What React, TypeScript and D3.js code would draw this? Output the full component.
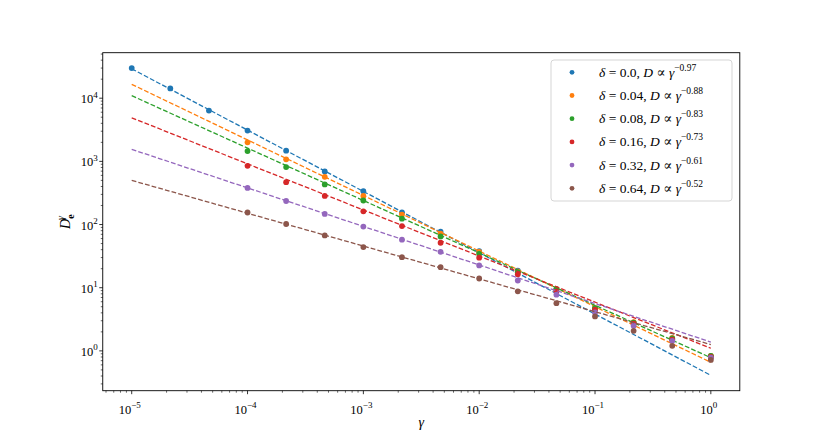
import React from "react";
import * as d3 from "d3";

// gamma grid: three points per decade from 1e-5 to 1
const gammas = [
  1e-5, 2.154e-5, 4.642e-5, 1e-4, 2.154e-4, 4.642e-4, 1e-3, 2.154e-3, 4.642e-3,
  1e-2, 2.154e-2, 4.642e-2, 1e-1, 2.154e-1, 4.642e-1, 1,
];

const deltas = ["0.0", "0.04", "0.08", "0.16", "0.32", "0.64"];
const exponents = ["0.97", "0.88", "0.83", "0.73", "0.61", "0.52"];
const colors = ["#1f77b4", "#ff7f0e", "#2ca02c", "#d62728", "#9467bd", "#8c564b"];

// measured D values (null = not measured)
const dDelta000 = [
  30000, 14300, 6370, 3070, 1475, 694, 337, 156, 77, 38, 18.7, 9.3, 4.65, 2.8, 1.5, 0.8,
];
const dDelta004 = [
  null, null, null, 2005, 1076, 569, 284, 144, 71.7, 37, 18.2, 9.5, 4.8, 2.84, 1.6, 0.83,
];
const dDelta008 = [
  null, null, null, 1458, 812, 431, 240, 124, 64.9, 34.2, 17.6, 9.5, 4.74, 2.79, 1.57, 0.83,
];
const dDelta016 = [
  null, null, null, 851, 469, 284, 162, 94.6, 51.5, 29.9, 16.3, 8.77, 4.49, 2.69, 1.5, 0.8,
];
const dDelta032 = [
  null, null, null, 380, 236, 147, 92.7, 57.6, 37, 22.5, 13.0, 7.77, 4.06, 2.5, 1.44, 0.78,
];
const dDelta064 = [
  null, null, null, 155, 102, 67.3, 43.9, 30.4, 21.1, 14.0, 8.77, 5.69, 3.51, 2.08, 1.2, 0.72,
];
const series = [dDelta000, dDelta004, dDelta008, dDelta016, dDelta032, dDelta064];

// power-law fit lines, value at gamma = 1e-5 and at gamma = 1
const fitStart = [29200, 16600, 10960, 4900, 1550, 500];
const fitEnd = [0.41, 0.66, 0.78, 1.1, 1.38, 1.26];
const fitGamma = [1e-5, 1];

const W = 822;
const H = 439;
const margin = { left: 102.75, right: 82.2, top: 52.7, bottom: 48.3 };
const font = "'Liberation Serif', 'DejaVu Serif', serif";

// matplotlib-style 5% margins in log space
function logDomain(values: number[]): [number, number] {
  const [lo, hi] = d3.extent(values.map(Math.log10)) as [number, number];
  const pad = (hi - lo) * 0.05;
  return [10 ** (lo - pad), 10 ** (hi + pad)];
}

function logTicks(domain: [number, number]) {
  const major: number[] = [];
  const minor: number[] = [];
  const e0 = Math.floor(Math.log10(domain[0]));
  const e1 = Math.ceil(Math.log10(domain[1]));
  for (let e = e0; e <= e1; e++) {
    for (let m = 1; m <= 9; m++) {
      const v = m * 10 ** e;
      if (v < domain[0] * 0.9999 || v > domain[1] * 1.0001) continue;
      (m === 1 ? major : minor).push(v);
    }
  }
  return { major, minor };
}

const Pow10: React.FC<{ v: number; x: number; y: number; anchor: string }> = ({ v, x, y, anchor }) => {
  const e = Math.round(Math.log10(v));
  return (
    <text x={x} y={y} textAnchor={anchor} fontFamily={font} fontSize={12.5} fill="#000">
      10
      <tspan dy={-5.5} fontSize={9}>
        {e < 0 ? `\u2212${-e}` : `${e}`}
      </tspan>
    </text>
  );
};

export default function App() {
  const allY: number[] = [];
  series.forEach((s) => s.forEach((v) => v != null && allY.push(v)));
  fitStart.forEach((v) => allY.push(v));
  fitEnd.forEach((v) => allY.push(v));

  const xDomain = logDomain(gammas);
  const yDomain = logDomain(allY);

  const x = d3.scaleLog().domain(xDomain).range([margin.left, W - margin.right]);
  const y = d3.scaleLog().domain(yDomain).range([H - margin.bottom, margin.top]);

  const xt = logTicks(xDomain);
  const yt = logTicks(yDomain);

  const line = d3
    .line<number>()
    .x((_, i) => x(fitGamma[i]))
    .y((d) => y(d));

  const x0 = margin.left;
  const x1 = W - margin.right;
  const y0 = margin.top;
  const y1 = H - margin.bottom;

  const legend = { x: 551, y: 60, w: 181, h: 141, row: 23.2 };

  return (
    <svg
      width={W}
      height={H}
      style={{ position: "absolute", left: 0, top: 0, background: "#fff" }}
    >
      <rect x={0} y={0} width={W} height={H} fill="#fff" />

      {series.map((s, si) => (
        <g key={si}>
          <path
            d={line([fitStart[si], fitEnd[si]]) ?? ""}
            fill="none"
            stroke={colors[si]}
            strokeWidth={1.3}
            strokeDasharray="4.8,2.1"
          />
          {s.map((v, i) =>
            v == null ? null : (
              <circle key={i} cx={x(gammas[i])} cy={y(v)} r={2.9} fill={colors[si]} />
            )
          )}
        </g>
      ))}

      {/* axes frame */}
      <rect x={x0} y={y0} width={x1 - x0} height={y1 - y0} fill="none" stroke="#000" strokeWidth={0.9} />

      {/* x ticks */}
      {xt.minor.map((v) => (
        <line key={`xm${v}`} x1={x(v)} x2={x(v)} y1={y1} y2={y1 + 2} stroke="#000" strokeWidth={0.6} />
      ))}
      {xt.major.map((v) => (
        <g key={`xM${v}`}>
          <line x1={x(v)} x2={x(v)} y1={y1} y2={y1 + 3.5} stroke="#000" strokeWidth={0.8} />
          <Pow10 v={v} x={x(v) - 2} y={y1 + 23} anchor="middle" />
        </g>
      ))}

      {/* y ticks */}
      {yt.minor.map((v) => (
        <line key={`ym${v}`} x1={x0} x2={x0 - 2} y1={y(v)} y2={y(v)} stroke="#000" strokeWidth={0.6} />
      ))}
      {yt.major.map((v) => (
        <g key={`yM${v}`}>
          <line x1={x0} x2={x0 - 3.5} y1={y(v)} y2={y(v)} stroke="#000" strokeWidth={0.8} />
          <Pow10 v={v} x={x0 - 5} y={y(v) + 5} anchor="end" />
        </g>
      ))}

      {/* axis labels */}
      <text x={(x0 + x1) / 2} y={427} textAnchor="middle" fontFamily={font} fontSize={14} fontStyle="italic">
        γ
      </text>
      <text
        transform={`translate(70,${(y0 + y1) / 2}) rotate(-90)`}
        textAnchor="middle"
        fontFamily={font}
        fontSize={14}
      >
        <tspan fontStyle="italic">D</tspan>
        <tspan dy={4} fontSize={10} fontWeight="bold">e</tspan>
        <tspan dx={-5.5} dy={-10} fontSize={10} fontStyle="italic">γ</tspan>
      </text>

      {/* legend */}
      <rect
        x={legend.x}
        y={legend.y}
        width={legend.w}
        height={legend.h}
        rx={3}
        fill="#fff"
        fillOpacity={0.8}
        stroke="#d0d0d0"
        strokeWidth={0.9}
      />
      {deltas.map((d, i) => {
        const ry = legend.y + 12.3 + i * legend.row;
        return (
          <g key={d}>
            <circle cx={572} cy={ry} r={2.4} fill={colors[i]} />
            <text x={599} y={ry + 4.5} fontFamily={font} fontSize={13.5} fill="#000">
              <tspan fontStyle="italic">δ</tspan>
              {` = ${d}, `}
              <tspan fontStyle="italic">D</tspan>
              {" ∝ "}
              <tspan fontStyle="italic">γ</tspan>
              <tspan dy={-6} fontSize={9.5}>{`\u2212${exponents[i]}`}</tspan>
            </text>
          </g>
        );
      })}
    </svg>
  );
}
